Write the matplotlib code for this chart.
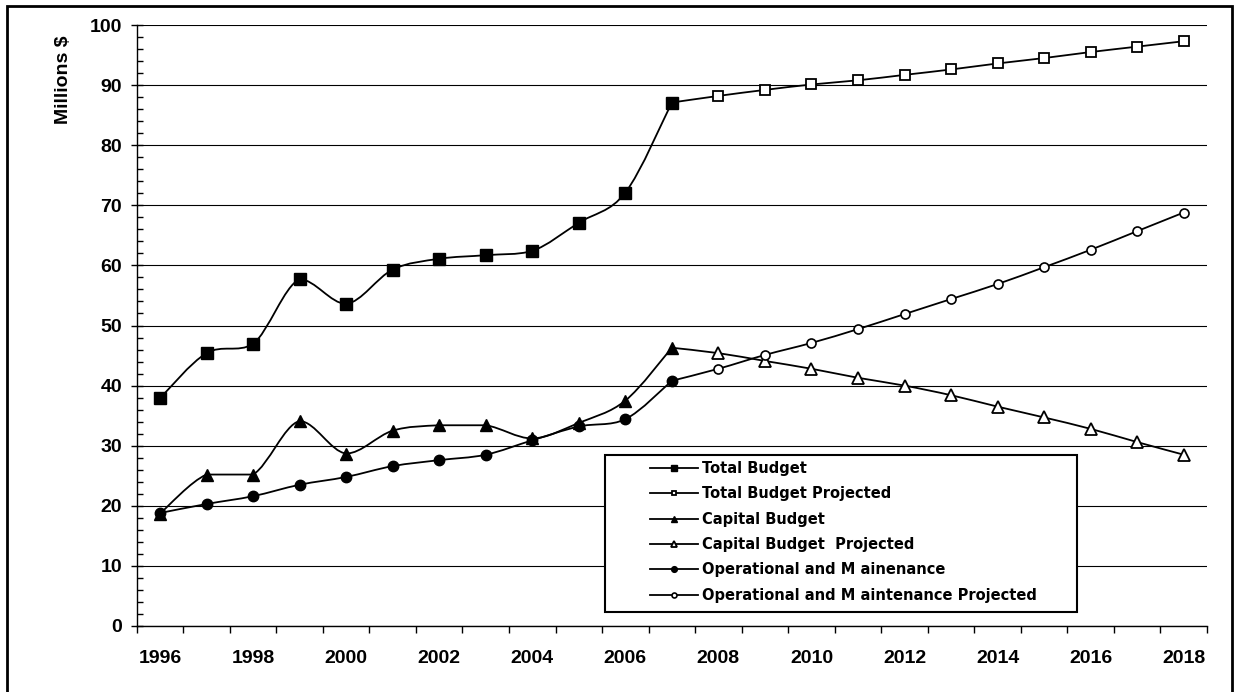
import numpy as np
import matplotlib.pyplot as plt
from matplotlib.patches import Rectangle, PathPatch
from matplotlib.path import Path
from matplotlib.lines import Line2D
from matplotlib.ticker import MultipleLocator, FixedLocator

plt.rcParams['font.family'] = ['Liberation Sans', 'DejaVu Sans']
plt.rcParams['font.weight'] = 'bold'


""" data """

years_hist = [1996, 1997, 1998, 1999, 2000, 2001, 2002, 2003, 2004, 2005, 2006, 2007]
years_proj = [2007, 2008, 2009, 2010, 2011, 2012, 2013, 2014, 2015, 2016, 2017, 2018]

total_budget = [37.9, 45.4, 46.9, 57.7, 53.6, 59.3, 61.1, 61.7, 62.4, 67.1, 72.1, 87.1]
total_proj = [87.1, 88.2, 89.2, 90.1, 90.8, 91.7, 92.6, 93.6, 94.5, 95.5, 96.4, 97.3]

capital_budget = [18.7, 25.2, 25.2, 34.1, 28.7, 32.5, 33.4, 33.4, 31.2, 33.8, 37.5, 46.3]
capital_proj = [46.3, 45.4, 44.1, 42.8, 41.3, 40.0, 38.4, 36.5, 34.7, 32.8, 30.6, 28.5]

om_budget = [18.8, 20.3, 21.6, 23.5, 24.8, 26.6, 27.6, 28.5, 30.9, 33.2, 34.4, 40.8]
om_proj = [40.8, 42.8, 45.1, 47.1, 49.4, 51.9, 54.4, 56.9, 59.7, 62.6, 65.7, 68.8]

labels = ["Total Budget", "Total Budget Projected", "Capital Budget",
          "Capital Budget  Projected", "Operational and M ainenance",
          "Operational and M aintenance Projected"]


def smooth_path(xs, ys):
    # excel-ish smoothed line: cubic bezier through every point,
    # control points kept inside each segment's y range (no overshoot)
    p = np.column_stack([xs, ys]).astype(float)
    ext = np.vstack([p[0], p, p[-1]])
    verts = [p[0]]
    codes = [Path.MOVETO]
    for i in range(len(p) - 1):
        p0, p1, p2, p3 = ext[i], ext[i + 1], ext[i + 2], ext[i + 3]
        c1 = p1 + (p2 - p0) / 6
        c2 = p2 - (p3 - p1) / 6
        lo, hi = min(p1[1], p2[1]), max(p1[1], p2[1])
        c1[1] = np.clip(c1[1], lo, hi)
        c2[1] = np.clip(c2[1], lo, hi)
        verts += [c1, c2, p2]
        codes += [Path.CURVE4] * 3
    return Path(verts, codes)


""" plot """

W, H = 1235, 692
fig = plt.figure(figsize=(W / 100, H / 100), dpi=100)
ax = fig.add_axes([136.7 / W, 1 - 626 / H, (1207 - 136.7) / W, (626 - 25) / H])

lw = 1.3
series = [
    (years_hist, total_budget, dict(marker='s', ms=8, mfc='k', mew=1)),
    (years_proj, total_proj, dict(marker='s', ms=6.5, mfc='white', mew=1.3)),
    (years_hist, capital_budget, dict(marker='^', ms=8, mfc='k', mew=1)),
    (years_proj, capital_proj, dict(marker='^', ms=8, mfc='white', mew=1.3)),
    (years_hist, om_budget, dict(marker='o', ms=7.5, mfc='k', mew=1)),
    (years_proj, om_proj, dict(marker='o', ms=6.5, mfc='white', mew=1.2)),
]

handles = []
for i, (xs, ys, st) in enumerate(series):
    ax.add_patch(PathPatch(smooth_path(xs, ys), fill=False, ec='k', lw=lw, zorder=3))
    # projected series share the 2007 point with the actuals, no marker there
    mx, my = (xs[1:], ys[1:]) if i % 2 else (xs, ys)
    ax.plot(mx, my, ls='none', mec='k', zorder=4, **st)
    hst = dict(st)
    hst['ms'] = st['ms'] * 0.55
    handles.append(Line2D([], [], color='k', lw=lw, mec='k', **hst))

ax.set_xlim(1995.5, 2018.5)
ax.set_ylim(0, 100)

# category boundaries get the tick marks, labels sit on even years
ax.xaxis.set_major_locator(FixedLocator(np.arange(1995.5, 2019, 1)))
ax.xaxis.set_minor_locator(FixedLocator(np.arange(1996, 2019, 2)))
ax.xaxis.set_major_formatter(plt.NullFormatter())
ax.xaxis.set_minor_formatter(plt.FuncFormatter(lambda v, p: f"{int(round(v))}"))
ax.tick_params(axis='x', which='major', direction='out', length=5, width=1)
ax.tick_params(axis='x', which='minor', length=0, pad=17, labelsize=14)

ax.yaxis.set_major_locator(MultipleLocator(10))
ax.yaxis.set_minor_locator(MultipleLocator(2))
ax.tick_params(axis='y', which='major', direction='inout', length=9, width=1,
               labelsize=14, pad=6)
ax.tick_params(axis='y', which='minor', direction='in', length=4, width=1)

ax.grid(axis='y', which='major', color='k', lw=0.8)
ax.set_axisbelow(True)
for s in ['top', 'right']:
    ax.spines[s].set_visible(False)
for s in ['left', 'bottom']:
    ax.spines[s].set_linewidth(1)

fig.text(64 / W, 1 - 80 / H, "Millions $", rotation=90, ha='center',
         va='center', fontsize=14, fontweight='bold')

# legend box
fig.patches.append(Rectangle((605 / W, 1 - 612 / H), (1077 - 605) / W,
                             (612 - 455) / H, transform=fig.transFigure,
                             fill=True, facecolor='white', edgecolor='k',
                             lw=1.5, zorder=5))
leg = fig.legend(handles, labels, loc='upper left',
                 bbox_to_anchor=(650 / W, 1 - 461 / H),
                 frameon=False, handlelength=3.3, handletextpad=0.25,
                 labelspacing=0.71, borderaxespad=0, borderpad=0,
                 prop=dict(family='DejaVu Sans', weight='bold', size=10.5))
leg.set_zorder(6)

# outer chart border
fig.patches.append(Rectangle((7 / W, -0.02), (1232 - 7) / W, 1.02 - 6 / H,
                             transform=fig.transFigure, fill=False,
                             edgecolor='k', lw=2))

plt.savefig("out.png", dpi=100)
